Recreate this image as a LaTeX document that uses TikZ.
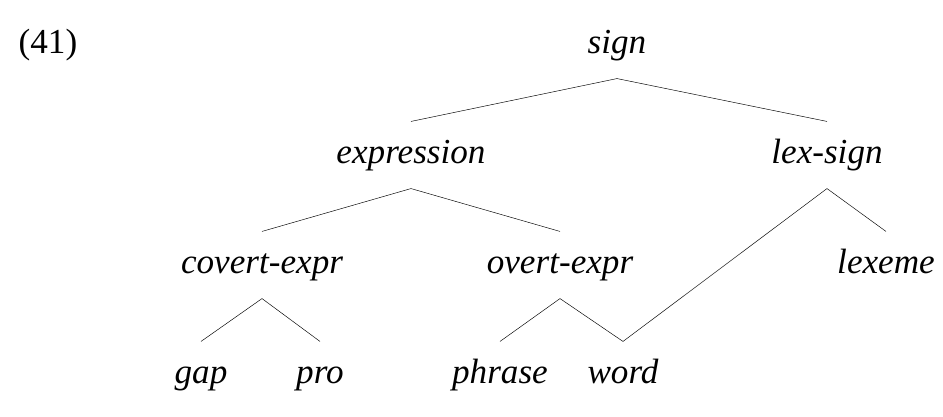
\documentclass[tikz,border=0pt]{standalone}
\usepackage{fontspec}
\setmainfont{Liberation Serif}
\begin{document}
\begin{tikzpicture}[x=0.03cm,y=-0.03cm,
  typ/.style={font=\fontsize{30}{36}\selectfont\itshape, text height=0.75cm, text depth=0.25cm, inner ysep=0.5cm, inner xsep=0pt}]
\useasboundingbox (0,0) rectangle (943,417);
\node[font=\fontsize{30}{36}\selectfont] (num) at (48,45) {(41)};
\node[typ] (sign) at (617,45) {sign};
\node[typ] (expression) at (411,155) {expression};
\node[typ] (lexsign) at (827,155) {lex-sign};
\node[typ] (covert) at (262,265) {covert-expr};
\node[typ] (overt) at (560,265) {overt-expr};
\node[typ] (lexeme) at (886,265) {lexeme};
\node[typ] (gap) at (201,375) {gap};
\node[typ] (pro) at (320,375) {pro};
\node[typ] (phrase) at (500,375) {phrase};
\node[typ] (word) at (623,375) {word};
\draw (expression.north) -- (sign.south) -- (lexsign.north);
\draw (covert.north) -- (expression.south) -- (overt.north);
\draw (word.north) -- (lexsign.south) -- (lexeme.north);
\draw (gap.north) -- (covert.south) -- (pro.north);
\draw (phrase.north) -- (overt.south) -- (word.north);
\end{tikzpicture}
\end{document}
